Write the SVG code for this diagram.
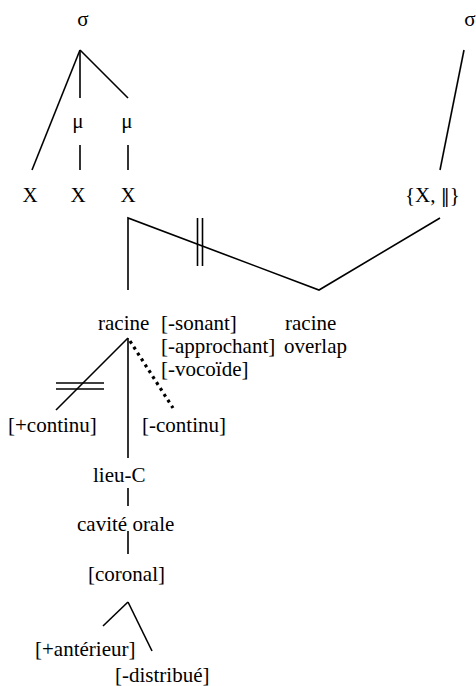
<svg xmlns="http://www.w3.org/2000/svg" width="476" height="686" viewBox="0 0 476 686">
<style>
text{font-family:"Liberation Serif","Tinos","Times New Roman","DejaVu Serif",serif;font-size:21px;fill:#000}
.l{stroke:#000;stroke-width:1.6;fill:none}
.d{stroke:#000;stroke-width:3.2;fill:none;stroke-dasharray:3 4}
.m{text-anchor:middle}
.dv{font-family:"DejaVu Serif",serif;font-size:18px}
</style>
<rect width="476" height="686" fill="#fff"/>
<g id="connectors">
<line class="l" x1="80" y1="50" x2="32" y2="170"/>
<line class="l" x1="80" y1="50" x2="80" y2="98"/>
<line class="l" x1="80" y1="50" x2="128" y2="98"/>
<line class="l" x1="80" y1="145" x2="80" y2="170"/>
<line class="l" x1="128" y1="145" x2="128" y2="170"/>
<line class="l" x1="464" y1="50" x2="440" y2="170"/>
<polyline class="l" points="128,290 128,218 319,290 440,218"/>
<line class="l" x1="197.5" y1="218" x2="197.5" y2="266"/>
<line class="l" x1="202.5" y1="218" x2="202.5" y2="266"/>
<line class="l" x1="128" y1="338" x2="56" y2="410"/>
<line class="l" x1="56" y1="383" x2="104" y2="383"/>
<line class="l" x1="56" y1="389" x2="104" y2="389"/>
<line class="d" x1="130" y1="341" x2="173" y2="408"/>
<line class="l" x1="128" y1="338" x2="128" y2="458"/>
<line class="l" x1="128" y1="488" x2="128" y2="506"/>
<line class="l" x1="128" y1="531" x2="128" y2="554"/>
<line class="l" x1="128" y1="602" x2="103" y2="626"/>
<line class="l" x1="128" y1="602" x2="152" y2="651"/>
</g>
<g id="sigma1"><text class="m" x="83" y="26">σ</text></g>
<g id="sigma2"><text class="m" x="470" y="26">σ</text></g>
<g id="mu1"><text class="m" x="78" y="128">μ</text></g>
<g id="mu2"><text class="m" x="127" y="128">μ</text></g>
<g id="x1"><text class="m" x="30" y="202">X</text></g>
<g id="x2"><text class="m" x="78" y="202">X</text></g>
<g id="x3"><text class="m" x="128" y="202">X</text></g>
<g id="xbar"><text x="405" y="202">{X, <tspan class="dv">‖</tspan>}</text></g>
<g id="racine1"><text x="98" y="330">racine</text></g>
<g id="features"><text x="161" y="330">[-sonant]</text><text x="161" y="353">[-approchant]</text><text x="161" y="376">[-vocoïde]</text></g>
<g id="racine2"><text x="285" y="330">racine</text><text x="284" y="353">overlap</text></g>
<g id="pluscontinu"><text x="8" y="432">[+continu]</text></g>
<g id="minuscontinu"><text x="142" y="432">[-continu]</text></g>
<g id="lieuC"><text x="93" y="482">lieu-C</text></g>
<g id="cavite"><text x="77" y="531">cavité orale</text></g>
<g id="coronal"><text x="88" y="581">[coronal]</text></g>
<g id="anterieur"><text x="35" y="656">[+antérieur]</text></g>
<g id="distribue"><text x="115" y="682">[-distribué]</text></g>
</svg>
